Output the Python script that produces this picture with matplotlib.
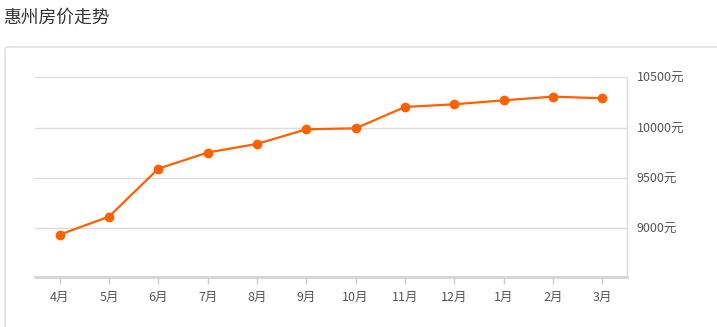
import matplotlib
matplotlib.use("Agg")
import matplotlib.pyplot as plt
from matplotlib.patches import FancyBboxPatch

plt.rcParams['font.family'] = ['Noto Sans CJK SC', 'DejaVu Sans']

# monthly average price
months = ['4月', '5月', '6月', '7月', '8月', '9月', '10月', '11月', '12月', '1月', '2月', '3月']
prices = [8936, 9115, 9592, 9752, 9838, 9983, 9993, 10205, 10232, 10271, 10308, 10291]
yticks = [9000, 9500, 10000, 10500]
ytick_labels = ['9000元', '9500元', '10000元', '10500元']

W, H = 717, 327
fig = plt.figure(figsize=(W / 100, H / 100), dpi=100)

# outer panel box (runs off the right and bottom edges)
box = FancyBboxPatch((5 / W, -20 / H), 760 / W, (H - 47 + 20) / H,
                     boxstyle="round,pad=0,rounding_size=0.006",
                     transform=fig.transFigure, fc='white', ec='#dcdcdc', lw=1,
                     zorder=-10)
fig.patches.append(box)

fig.text(3 / W, 1 - 18 / H, '惠州房价走势', fontsize=12.8, color='#333333',
         ha='left', va='center')

ax = fig.add_axes([35 / W, 49.7 / H, 592 / W, 200 / H])
ax.patch.set_visible(False)
x = list(range(len(months)))
ax.plot(x, prices, color='#ff6000', lw=1.6, marker='o', ms=6, zorder=3)

ax.set_xlim(-0.5, len(months) - 0.5)
ax.set_ylim(8512, 10500)
ax.set_xticks(x)
ax.set_xticklabels(months)
ax.set_yticks(yticks)
ax.set_yticklabels(ytick_labels)
ax.yaxis.tick_right()
ax.grid(axis='y', color='#dcdcdc', lw=1)
ax.set_axisbelow(True)

for s in ['top', 'left']:
    ax.spines[s].set_visible(False)
ax.spines['right'].set_color('#dcdcdc')
ax.spines['right'].set_linewidth(1)
ax.spines['bottom'].set_color('#d4d4d4')
ax.spines['bottom'].set_linewidth(2)

ax.tick_params(axis='x', length=5, width=1, color='#cccccc', labelsize=9,
               labelcolor='#555555', pad=5)
ax.tick_params(axis='y', length=0, labelsize=9, labelcolor='#555555', pad=7)

fig.savefig('out.png', dpi=100)
